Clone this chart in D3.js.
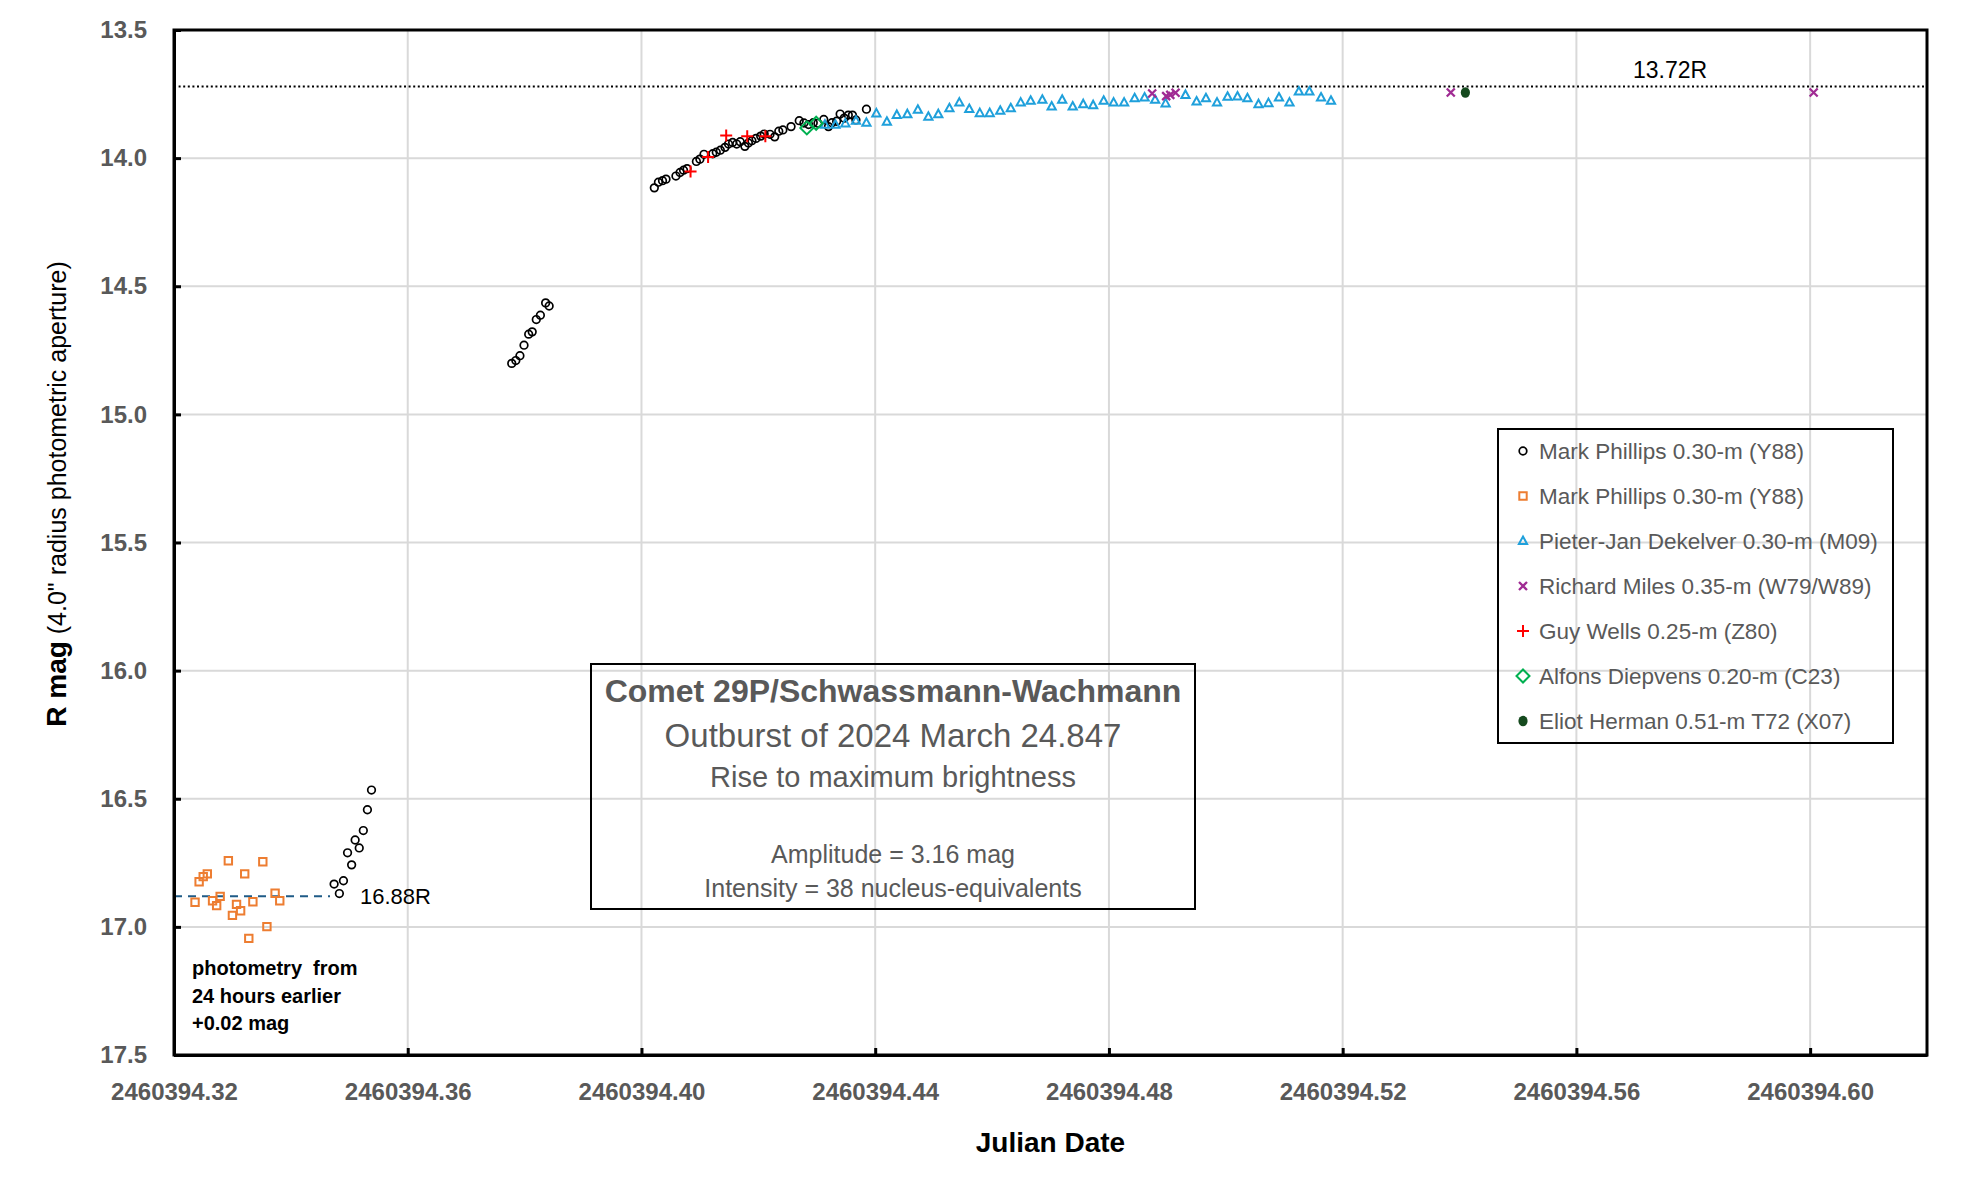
<!DOCTYPE html>
<html>
<head>
<meta charset="utf-8">
<script src="https://cdn.jsdelivr.net/npm/d3@7"></script>
<style>
  body { margin: 0; background: #fff; }
  text { font-family: "Liberation Sans", Arial, sans-serif; }
</style>
</head>
<body>
<div id="vis"></div>
<script>
// page + plot area
const W = 1965, H = 1177
const margin = { top: 30, right: 38, bottom: 122, left: 174 }
const width = W - margin.left - margin.right
const height = H - margin.top - margin.bottom

// JD values are offsets from 2460394
const jdBase = 2460394
const xTicks = [0.32, 0.36, 0.40, 0.44, 0.48, 0.52, 0.56, 0.60]
const xTickLabels = ['2460394.32', '2460394.36', '2460394.40', '2460394.44',
                     '2460394.48', '2460394.52', '2460394.56', '2460394.60']
const yTicks = [13.5, 14.0, 14.5, 15.0, 15.5, 16.0, 16.5, 17.0, 17.5]
const yTickLabels = ['13.5', '14.0', '14.5', '15.0', '15.5', '16.0', '16.5', '17.0', '17.5']

// Mark Phillips (circles) [jd offset, R mag]
const phillipsCircles = [
  [0.3474, 16.833], [0.3483, 16.870], [0.3490, 16.820], [0.3497, 16.711], [0.3504, 16.758],
  [0.3510, 16.661], [0.3517, 16.692], [0.3524, 16.624], [0.3531, 16.543], [0.3538, 16.466],
  [0.3778, 14.801], [0.3785, 14.790], [0.3792, 14.771], [0.3799, 14.730], [0.3807, 14.687],
  [0.3813, 14.678], [0.3820, 14.630], [0.3827, 14.613], [0.3836, 14.565], [0.3842, 14.577],
  [0.4022, 14.116], [0.4029, 14.094], [0.4036, 14.088], [0.4042, 14.082], [0.4059, 14.070],
  [0.4066, 14.056], [0.4072, 14.047], [0.4078, 14.041], [0.4094, 14.013], [0.4100, 14.004],
  [0.4107, 13.985], [0.4122, 13.983], [0.4128, 13.977], [0.4135, 13.969], [0.4143, 13.958],
  [0.4149, 13.945], [0.4156, 13.939], [0.4163, 13.945], [0.4169, 13.936], [0.4177, 13.954],
  [0.4183, 13.941], [0.4189, 13.932], [0.4196, 13.923], [0.4204, 13.914], [0.4210, 13.906],
  [0.4220, 13.907], [0.4228, 13.917], [0.4235, 13.895], [0.4242, 13.890], [0.4256, 13.877],
  [0.4270, 13.854], [0.4278, 13.863], [0.4286, 13.869], [0.4294, 13.862], [0.4302, 13.864],
  [0.4312, 13.849], [0.4320, 13.877], [0.4326, 13.862], [0.4334, 13.856], [0.4340, 13.828],
  [0.4347, 13.844], [0.4354, 13.832], [0.4361, 13.832], [0.4367, 13.851], [0.4385, 13.809]
]

// Mark Phillips (squares), 24 hours earlier
const phillipsSquares = [
  [0.3236, 16.904], [0.3243, 16.824], [0.3250, 16.804], [0.3257, 16.793], [0.3266, 16.898],
  [0.3273, 16.917], [0.3279, 16.881], [0.3293, 16.742], [0.3300, 16.955], [0.3307, 16.912],
  [0.3314, 16.937], [0.3321, 16.793], [0.3328, 17.045], [0.3335, 16.902], [0.3352, 16.746],
  [0.3359, 16.999], [0.3373, 16.869], [0.3381, 16.898]
]

// Pieter-Jan Dekelver
const dekelver = [
  [0.4314, 13.869], [0.4332, 13.869], [0.4349, 13.864], [0.4367, 13.854], [0.4385, 13.862],
  [0.4402, 13.825], [0.4420, 13.858], [0.4437, 13.831], [0.4455, 13.828], [0.4473, 13.811],
  [0.4491, 13.838], [0.4508, 13.828], [0.4527, 13.805], [0.4544, 13.783], [0.4561, 13.808],
  [0.4579, 13.824], [0.4596, 13.824], [0.4614, 13.815], [0.4632, 13.805], [0.4649, 13.783],
  [0.4666, 13.776], [0.4686, 13.772], [0.4702, 13.798], [0.4720, 13.772], [0.4738, 13.798],
  [0.4756, 13.789], [0.4773, 13.793], [0.4791, 13.776], [0.4808, 13.783], [0.4826, 13.783],
  [0.4844, 13.766], [0.4861, 13.763], [0.4879, 13.772], [0.4897, 13.786], [0.4931, 13.753],
  [0.4950, 13.779], [0.4966, 13.766], [0.4985, 13.783], [0.5003, 13.760], [0.5020, 13.759],
  [0.5037, 13.766], [0.5056, 13.789], [0.5073, 13.785], [0.5091, 13.763], [0.5109, 13.783],
  [0.5125, 13.740], [0.5143, 13.740], [0.5163, 13.763], [0.5180, 13.776]
]

// Richard Miles
const miles = [
  [0.4874, 13.748], [0.4898, 13.758], [0.4905, 13.753], [0.4914, 13.745],
  [0.5385, 13.744], [0.6006, 13.744]
]

// Guy Wells
const wells = [[0.4084, 14.052], [0.4114, 13.996], [0.4145, 13.912], [0.4181, 13.915], [0.4212, 13.915]]

// Alfons Diepvens
const diepvens = [[0.4283, 13.882], [0.4299, 13.864]]

// Eliot Herman
const herman = [[0.5410, 13.744]]

const legendLabels = ['Mark Phillips 0.30-m (Y88)', 'Mark Phillips 0.30-m (Y88)',
  'Pieter-Jan Dekelver 0.30-m (M09)', 'Richard Miles 0.35-m (W79/W89)',
  'Guy Wells 0.25-m (Z80)', 'Alfons Diepvens 0.20-m (C23)', 'Eliot Herman 0.51-m T72 (X07)']

const maxMag = 13.72, baseMag = 16.88, baseEndJD = 0.3467

const series = [
  { data: phillipsCircles, shape: 'circle', color: '#000000' },
  { data: phillipsSquares, shape: 'square', color: '#ed7d31' },
  { data: dekelver, shape: 'triangle', color: '#1fa0db' },
  { data: miles, shape: 'times', color: '#a02b93' },
  { data: wells, shape: 'plus', color: '#ff0000' },
  { data: diepvens, shape: 'diamond', color: '#00b050' },
  { data: herman, shape: 'dot', color: '#154a1e' }
]

const svg = d3.select('#vis')
  .append('svg')
  .attr('width', W)
  .attr('height', H)
  .style('background', '#fff')

const g = svg.append('g')
  .attr('transform', `translate(${margin.left},${margin.top})`)

const xScale = d3.scaleLinear().domain([0.32, 0.62]).range([0, width])
const yScale = d3.scaleLinear().domain([13.5, 17.5]).range([0, height])

// gridlines
g.selectAll('.vgrid')
  .data(xTicks.slice(1))
  .join('line')
  .attr('class', 'vgrid')
  .attr('x1', d => xScale(d)).attr('x2', d => xScale(d))
  .attr('y1', 0).attr('y2', height)
  .attr('stroke', '#d9d9d9').attr('stroke-width', 2)

g.selectAll('.hgrid')
  .data(yTicks.slice(1, -1))
  .join('line')
  .attr('class', 'hgrid')
  .attr('x1', 0).attr('x2', width)
  .attr('y1', d => yScale(d)).attr('y2', d => yScale(d))
  .attr('stroke', '#d9d9d9').attr('stroke-width', 2)

// reference lines
g.append('line')
  .attr('x1', 0).attr('x2', width)
  .attr('y1', yScale(maxMag)).attr('y2', yScale(maxMag))
  .attr('stroke', '#000').attr('stroke-width', 2)
  .attr('stroke-dasharray', '2,2.6')

g.append('line')
  .attr('x1', 0).attr('x2', xScale(baseEndJD))
  .attr('y1', yScale(baseMag)).attr('y2', yScale(baseMag))
  .attr('stroke', '#1f5b87').attr('stroke-width', 2)
  .attr('stroke-dasharray', '8,6')

// axes
const yAxis = d3.axisLeft(yScale)
  .tickValues(yTicks)
  .tickFormat((d, i) => yTickLabels[i])
  .tickSizeInner(-7).tickSizeOuter(0).tickPadding(27)

const xAxis = d3.axisBottom(xScale)
  .tickValues(xTicks)
  .tickFormat((d, i) => xTickLabels[i])
  .tickSizeInner(-7).tickSizeOuter(0).tickPadding(28)

g.append('g').attr('class', 'axis').call(yAxis)
g.append('g').attr('class', 'axis').attr('transform', `translate(0,${height})`).call(xAxis)

g.selectAll('.axis path').attr('stroke', '#000').attr('stroke-width', 3)
g.selectAll('.axis line').attr('stroke', '#000').attr('stroke-width', 3)
g.selectAll('.axis text')
  .attr('fill', '#595959')
  .style('font-family', '"Liberation Sans", Arial, sans-serif')
  .style('font-size', '24px')
  .style('font-weight', 'bold')

// plot frame (top and right)
g.append('rect')
  .attr('x', 0).attr('y', 0)
  .attr('width', width).attr('height', height)
  .attr('fill', 'none').attr('stroke', '#000').attr('stroke-width', 3)

// marker shapes
function markerPath(shape) {
  if (shape === 'square') return 'M-3.7,-3.7H3.7V3.7H-3.7Z'
  if (shape === 'triangle') return 'M0,-4.4L4.1,3.1L-4.1,3.1Z'
  if (shape === 'times') return 'M-4,-4L4,4M-4,4L4,-4'
  if (shape === 'plus') return 'M-6,0H6M0,-6V6'
  if (shape === 'diamond') return 'M0,-6.5L6.5,0L0,6.5L-6.5,0Z'
  return null
}

function drawMarkers(sel, s) {
  if (s.shape === 'circle') {
    sel.append('circle')
      .attr('r', 3.8)
      .attr('fill', 'none')
      .attr('stroke', s.color)
      .attr('stroke-width', 1.7)
  } else if (s.shape === 'dot') {
    sel.append('ellipse')
      .attr('rx', 4.6).attr('ry', 5.2)
      .attr('fill', s.color)
  } else {
    sel.append('path')
      .attr('d', markerPath(s.shape))
      .attr('fill', 'none')
      .attr('stroke', s.color)
      .attr('stroke-width', s.shape === 'times' ? 2.3 : 2)
  }
}

series.forEach((s, k) => {
  const pts = g.append('g').attr('class', 'series-' + k)
    .selectAll('g')
    .data(s.data)
    .join('g')
    .attr('transform', d => `translate(${xScale(d[0])},${yScale(d[1])})`)
  drawMarkers(pts, s)
})

// annotations
g.append('text')
  .attr('x', 1633 - margin.left).attr('y', 78 - margin.top)
  .style('font-size', '23px').attr('fill', '#000')
  .text(maxMag.toFixed(2) + 'R')

g.append('text')
  .attr('x', 360 - margin.left).attr('y', 904 - margin.top)
  .style('font-size', '22px').attr('fill', '#000')
  .text(baseMag.toFixed(2) + 'R')

const noteLines = ['photometry\u00a0 from', '24 hours earlier', '+0.02 mag']
g.selectAll('.note')
  .data(noteLines)
  .join('text')
  .attr('class', 'note')
  .attr('x', 192 - margin.left)
  .attr('y', (d, i) => 975 - margin.top + i * 27.5)
  .style('font-size', '20px').style('font-weight', 'bold')
  .attr('fill', '#000')
  .text(d => d)

// title box
const box = svg.append('g')
box.append('rect')
  .attr('x', 591).attr('y', 664).attr('width', 604).attr('height', 245)
  .attr('fill', 'none').attr('stroke', '#000').attr('stroke-width', 2)

const boxLines = [
  { t: 'Comet 29P/Schwassmann-Wachmann', y: 702, size: 32, bold: true },
  { t: 'Outburst of 2024 March 24.847', y: 747, size: 33, bold: false },
  { t: 'Rise to maximum brightness', y: 787, size: 29, bold: false },
  { t: 'Amplitude = 3.16 mag', y: 863, size: 25, bold: false },
  { t: 'Intensity = 38 nucleus-equivalents', y: 897, size: 25, bold: false }
]
box.selectAll('.boxline')
  .data(boxLines)
  .join('text')
  .attr('class', 'boxline')
  .attr('x', 893).attr('y', d => d.y)
  .attr('text-anchor', 'middle')
  .attr('fill', '#595959')
  .style('font-size', d => d.size + 'px')
  .style('font-weight', d => d.bold ? 'bold' : 'normal')
  .text(d => d.t)

// legend
const legend = svg.append('g')
legend.append('rect')
  .attr('x', 1498).attr('y', 429).attr('width', 395).attr('height', 314)
  .attr('fill', 'none').attr('stroke', '#000').attr('stroke-width', 2)

const rows = legend.selectAll('.row')
  .data(series)
  .join('g')
  .attr('class', 'row')
  .attr('transform', (d, i) => `translate(1523,${451 + i * 45})`)

rows.each(function (s) { drawMarkers(d3.select(this), s) })

rows.append('text')
  .attr('x', 16).attr('y', 8)
  .attr('fill', '#595959')
  .style('font-size', '22.5px')
  .text((d, i) => legendLabels[i])

// axis titles
svg.append('text')
  .attr('transform', 'translate(66,494) rotate(-90)')
  .attr('text-anchor', 'middle')
  .attr('fill', '#000')
  .call(t => {
    t.append('tspan').style('font-weight', 'bold').style('font-size', '28px').text('R mag')
    t.append('tspan').style('font-size', '25px').text(' (4.0" radius photometric aperture)')
  })

svg.append('text')
  .attr('x', margin.left + width / 2).attr('y', 1152)
  .attr('text-anchor', 'middle')
  .attr('fill', '#000')
  .style('font-size', '28px').style('font-weight', 'bold')
  .text('Julian Date')
</script>
</body>
</html>
